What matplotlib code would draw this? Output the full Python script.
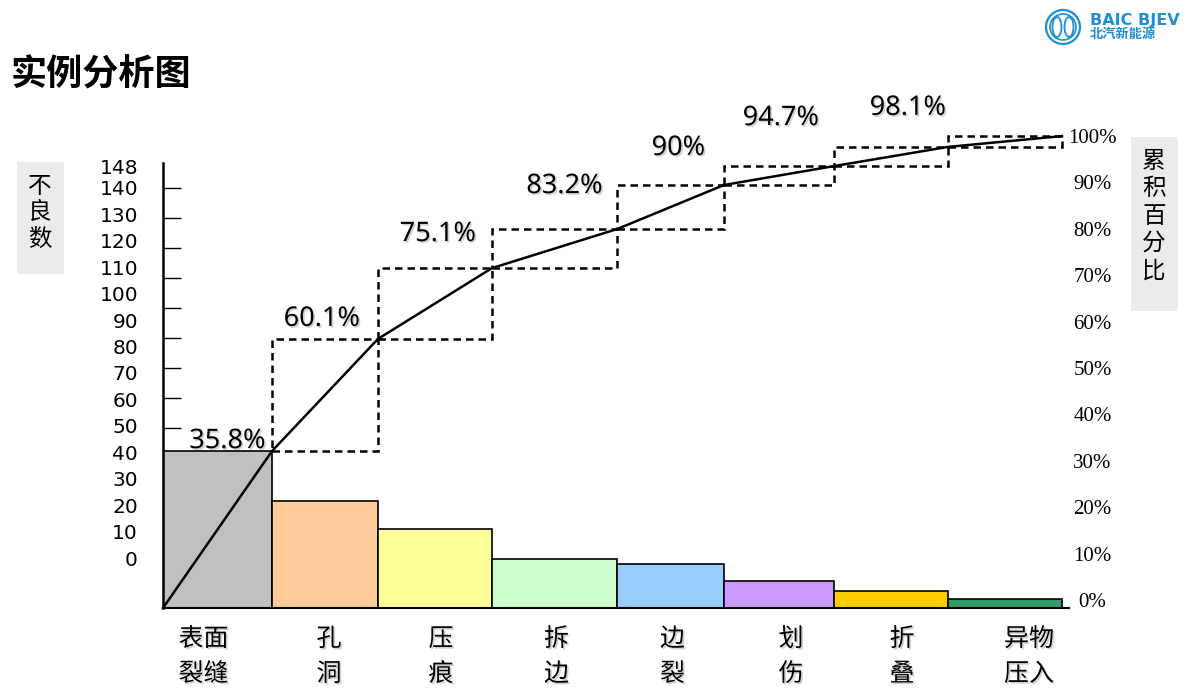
import matplotlib

matplotlib.use("Agg")

import matplotlib.patheffects as pe
import matplotlib.pyplot as plt
import numpy as np
from matplotlib.patches import Circle, Ellipse, Rectangle


# ==========================================================
# Data (left axis units)
# ==========================================================

CATEGORIES = ["表面\n裂缝", "孔\n洞", "压\n痕", "拆\n边", "边\n裂", "划\n伤", "折\n叠", "异物\n压入"]

DEFECT_COUNTS = [52.3, 35.7, 26.3, 16.3, 14.7, 9.0, 5.7, 3.0]

# cumulative curve as drawn on the slide (left axis units)
CUMULATIVE_LEVELS = [52.3, 89.7, 113.3, 126.3, 141.0, 147.3, 153.7, 157.3]

CUMULATIVE_LABELS = ["35.8%", "60.1%", "75.1%", "83.2%", "90%", "94.7%", "98.1%"]

LEFT_TICK_VALUES = [0, 10, 20, 30, 40, 50, 60, 70, 80, 90, 100, 110, 120, 130, 140, 148]
LEFT_TICK_LABELS = ["0", "10", "20", "30", "40", "50", "60", "70", "80", "90",
                    "100", "110", "120", "130", "140", "148"]

RIGHT_TICK_VALUES = [0, 10, 20, 30, 40, 50, 60, 70, 80, 90, 100]
RIGHT_TICK_LABELS = ["0%", "10%", "20%", "30%", "40%", "50%", "60%", "70%", "80%", "90%", "100%"]

MARK_TICKS = [60, 70, 80, 90, 100, 110, 120, 130, 140]


# ==========================================================
# Layout / style
# ==========================================================

W, H = 1202, 694

BAR_WIDTHS = [109, 106, 114, 125, 107, 110, 114, 114]
LABEL_SHIFT = [-14, 4, 6, 2, 2, 12, 11, 24]
PCT_DX = [10, -3, 3, 10, 8, 2, 17]
PCT_RISE = [10, 20, 34, 43, 37, 48, 39]

BAR_COLORS = ["#C0C0C0", "#FFCC99", "#FFFF99", "#CCFFCC", "#99CCFF", "#CC99FF", "#FFCC00", "#339966"]

LOGO_BLUE = "#1E8FD2"
BOX_GRAY = "#EBEBEB"

CJK = ["Noto Sans CJK SC", "DejaVu Sans"]

SHADOW = [pe.SimplePatchShadow(offset=(1.2, -1.2), shadow_rgbFace="#9A9A9A", alpha=0.45), pe.Normal()]


def px_rect(x0, y0, x1, y1):
    return [x0 / W, 1 - y1 / H, (x1 - x0) / W, (y1 - y0) / H]


# ==========================================================
# Decorations (title, logo, axis name boxes)
# ==========================================================


def draw_decor(fig):
    deco = fig.add_axes([0, 0, 1, 1])
    deco.set_xlim(0, W)
    deco.set_ylim(H, 0)
    deco.axis("off")

    deco.text(11, 75, "实例分析图", family=CJK, fontsize=26, fontweight="bold",
              va="center", ha="left")

    # logo
    deco.add_patch(Circle((1063, 27), 17, fill=False, ec=LOGO_BLUE, lw=1.6))
    deco.add_patch(Circle((1063, 27), 13, fill=False, ec=LOGO_BLUE, lw=1.2))
    deco.add_patch(Ellipse((1057, 27), 9, 20, fill=False, ec=LOGO_BLUE, lw=1.3))
    deco.add_patch(Ellipse((1069, 27), 9, 20, fill=False, ec=LOGO_BLUE, lw=1.3))
    deco.text(1090, 20, "BAIC BJEV", color=LOGO_BLUE, fontsize=11.5, fontweight="bold",
              va="center", ha="left")
    deco.text(1090, 34, "北汽新能源", color=LOGO_BLUE, family=CJK, fontsize=9.5,
              fontweight="bold", va="center", ha="left")

    # axis name boxes
    deco.add_patch(Rectangle((17, 162), 47, 112, fc=BOX_GRAY, ec="none"))
    deco.text(40, 213, "不\n良\n数", family=CJK, fontsize=17, ha="center", va="center",
              linespacing=1.2)
    deco.add_patch(Rectangle((1131, 137), 47, 174, fc=BOX_GRAY, ec="none"))
    deco.text(1154, 216, "累\n积\n百\n分\n比", family=CJK, fontsize=17, ha="center",
              va="center", linespacing=1.25)


# ==========================================================
# Pareto chart
# ==========================================================


def draw_chart(fig):
    ax = fig.add_axes(px_rect(163, 130, 1069, 608))
    ax.set_facecolor("none")
    ax.set_xlim(0, 906)
    ax.set_ylim(0, 478 / 3.0)

    widths = np.array(BAR_WIDTHS, dtype=float)
    edges = np.concatenate([[0.0], np.cumsum(widths)])
    centers = edges[:-1] + widths / 2

    ax.bar(edges[:-1], DEFECT_COUNTS, width=widths, align="edge",
           color=BAR_COLORS, edgecolor="black", linewidth=1.2, zorder=2)

    levels = np.concatenate([[0.0], CUMULATIVE_LEVELS])

    # dashed boxes around each step of the curve
    for i in range(1, len(levels) - 1):
        ax.add_patch(Rectangle((edges[i], levels[i]), widths[i], levels[i + 1] - levels[i],
                               fill=False, ec="black", lw=1.8, ls=(0, (3, 2)),
                               zorder=3, clip_on=False))

    ax.plot(edges, levels, color="black", lw=1.8, zorder=4, clip_on=False)

    for i, lab in enumerate(CUMULATIVE_LABELS):
        ax.annotate(lab, (centers[i], CUMULATIVE_LEVELS[i]),
                    xytext=(PCT_DX[i] * 0.72, PCT_RISE[i] * 0.72), textcoords="offset points",
                    ha="center", va="center", family="Noto Sans", fontsize=19.5,
                    path_effects=SHADOW, zorder=5)

    for s in ["top", "right"]:
        ax.spines[s].set_visible(False)
    ax.spines["left"].set_bounds(0, 148.3)
    ax.spines["left"].set_linewidth(1.8)
    ax.spines["bottom"].set_linewidth(1.5)

    ax.set_yticks(MARK_TICKS)
    ax.tick_params(axis="y", direction="in", length=13, width=1, labelleft=False)

    ax.set_xticks(centers + np.array(LABEL_SHIFT))
    ax.set_xticklabels(CATEGORIES, family=CJK, fontsize=18, linespacing=1.45)
    ax.tick_params(axis="x", length=0, pad=13)
    for t in ax.get_xticklabels():
        t.set_path_effects(SHADOW)

    # left value labels (placed as on the slide)
    axl = ax.twinx()
    axl.set_ylim((558 - 608) / 2.643, (558 - 130) / 2.643)
    axl.yaxis.set_ticks_position("left")
    axl.set_yticks(LEFT_TICK_VALUES)
    axl.set_yticklabels(LEFT_TICK_LABELS, fontsize=14.5)
    axl.tick_params(axis="y", length=0, pad=18)
    for s in axl.spines.values():
        s.set_visible(False)

    # right cumulative percent labels
    axr = ax.twinx()
    axr.set_ylim((600 - 608) / 4.64, (600 - 130) / 4.64)
    axr.set_yticks(RIGHT_TICK_VALUES)
    axr.set_yticklabels(RIGHT_TICK_LABELS, family="Liberation Serif", fontsize=15)
    axr.tick_params(axis="y", length=0, pad=17)
    for t in axr.get_yticklabels():
        t.set_ha("center")
    for s in axr.spines.values():
        s.set_visible(False)

    return ax


# ==========================================================
# Main
# ==========================================================


def main():
    fig = plt.figure(figsize=(W / 100, H / 100), dpi=100)
    fig.patch.set_facecolor("white")
    draw_decor(fig)
    draw_chart(fig)
    fig.savefig("out.png", dpi=100, facecolor="white")
    plt.close(fig)


if __name__ == "__main__":
    main()
